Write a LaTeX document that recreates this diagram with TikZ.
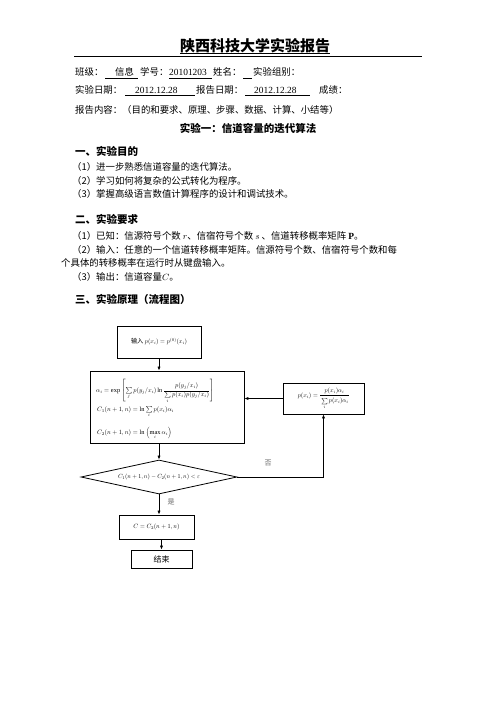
\documentclass[tikz,border=0pt]{standalone}
\usepackage{amsmath}
\usepackage{fontspec}
\setmainfont{Liberation Serif}
\newfontfamily\cjk{Noto Sans CJK SC}
\usetikzlibrary{shapes.geometric,arrows.meta}
\begin{document}
\begin{tikzpicture}[x=1pt,y=-1pt,
  txt/.style={anchor=west,inner sep=0pt,font=\fontsize{9.4}{11}\selectfont\cjk},
  head/.style={anchor=west,inner sep=0pt,font=\fontsize{10.5}{12}\selectfont\cjk\bfseries},
  box/.style={draw,line width=0.8pt,inner sep=0pt},
  arr/.style={line width=0.7pt,-{Latex[length=4pt,width=3.2pt]}},
  uline/.style={line width=0.6pt},
  lbl/.style={inner sep=0pt,font=\fontsize{7}{8}\selectfont\cjk,text=black!60}]
\useasboundingbox (0,0) rectangle (496,702);
% title
\node[inner sep=0pt,font=\fontsize{15}{17}\selectfont\cjk\bfseries] (title) at (255,46) {陕西科技大学实验报告};
\draw[line width=0.8pt] (180,53.5) -- (330,53.5);
\draw[line width=1pt] (74,56.5) -- (422,56.5);
% row 1
\node[txt] (r1a) at (75,72) {班级：};
\node[txt] (r1b) at (115,72) {信息};
\draw[uline] (105,78) -- (138,78);
\node[txt] (r1c) at (140,72) {学号：};
\node[txt,font=\fontsize{9.4}{11}\selectfont] (r1d) at (169,72) {20101203};
\draw[uline] (169,78) -- (212,78);
\node[txt] (r1e) at (213,72) {姓名：};
\draw[uline] (243,78) -- (252,78);
\node[txt] (r1f) at (253,72) {实验组别：};
% row 2
\node[txt] (r2a) at (75,90) {实验日期：};
\node[txt,font=\fontsize{9.4}{11}\selectfont] (r2b) at (135,90) {2012.12.28};
\draw[uline] (125,95.5) -- (195,95.5);
\node[txt] (r2c) at (196,90) {报告日期：};
\node[txt,font=\fontsize{9.4}{11}\selectfont] (r2d) at (254,90) {2012.12.28};
\draw[uline] (245,95.5) -- (310,95.5);
\node[txt] (r2e) at (319,90) {成绩：};
% row 3
\node[txt] (r3) at (75,110) {报告内容：（目的和要求、原理、步骤、数据、计算、小结等）};
\node[inner sep=0pt,font=\fontsize{10.5}{12}\selectfont\cjk\bfseries] (r4) at (248,128) {实验一：信道容量的迭代算法};
% section 1
\node[head] (h1) at (75,151) {一、实验目的};
\node[txt] (a1) at (72,167) {（1）进一步熟悉信道容量的迭代算法。};
\node[txt] (a2) at (72,180.5) {（2）学习如何将复杂的公式转化为程序。};
\node[txt] (a3) at (72,194) {（3）掌握高级语言数值计算程序的设计和调试技术。};
% section 2
\node[head] (h2) at (75,219) {二、实验要求};
\node[txt] (b1) at (72,236) {（1）已知：信源符号个数 $r$、信宿符号个数 $s$ 、信道转移概率矩阵 $\mathbf{P}$。};
\node[txt] (b2) at (72,249.5) {（2）输入：任意的一个信道转移概率矩阵。信源符号个数、信宿符号个数和每};
\node[txt] (b3) at (61,263) {个具体的转移概率在运行时从键盘输入。};
\node[txt] (b4) at (72,276.5) {（3）输出：信道容量$C$。};
% section 3
\node[head] (h3) at (75,299) {三、实验原理（流程图）};
% flowchart
\node[box,minimum width=84pt,minimum height=32pt] (in) at (159,342) {\scalebox{0.62}{{\cjk 输入} $p(x_i)=p^{(0)}(x_i)$}};
\node[box,minimum width=154pt,minimum height=72pt] (calc) at (167,407) {};
\node[inner sep=0pt,anchor=west] (f1) at (96,391) {\scalebox{0.64}{$\alpha_i=\exp\left[\sum\limits_j p(y_j/x_i)\ln\dfrac{p(y_j/x_i)}{\sum\limits_i p(x_i)p(y_j/x_i)}\right]$}};
\node[inner sep=0pt,anchor=west] (f2) at (97,412) {\scalebox{0.64}{$C_1(n+1,n)=\ln\sum\limits_i p(x_i)\alpha_i$}};
\node[inner sep=0pt,anchor=west] (f3) at (97,433) {\scalebox{0.64}{$C_2(n+1,n)=\ln\left(\max\limits_i\alpha_i\right)$}};
\node[box,minimum width=81pt,minimum height=31pt] (upd) at (323.5,398.5) {\scalebox{0.62}{$p(x_i)=\dfrac{p(x_i)\alpha_i}{\rule{0pt}{10pt}\sum\limits_i p(x_i)\alpha_i}$}};
\node[draw,line width=0.8pt,diamond,aspect=4.6,minimum width=156pt,minimum height=34pt,inner sep=0pt] (dec) at (159,477) {\scalebox{0.6}{$C_1(n+1,n)-C_2(n+1,n)<\varepsilon$}};
\node[box,minimum width=75pt,minimum height=24pt] (res) at (156.5,527) {\scalebox{0.62}{$C=C_2(n+1,n)$}};
\node[box,minimum width=61pt,minimum height=18pt,font=\fontsize{8}{9}\selectfont\cjk] (fin) at (161.5,559) {结束};
% connectors
\draw[arr] (in.south) -- (in.south |- calc.north);
\draw[arr] (dec.north |- calc.south) -- (dec.north);
\coordinate (corner) at (upd.south |- dec.east);
\draw[arr] (dec.east) -- (corner) -- (upd.south);
\draw[arr] (upd.west) -- (calc.east |- upd.west);
\draw[arr] (dec.south) -- (dec.south |- res.north);
\draw[arr] (fin.north |- res.south) -- (fin.north);
\node[lbl] (no) at (268,463) {否};
\node[lbl] (yes) at (171,502) {是};
\end{tikzpicture}
\end{document}
